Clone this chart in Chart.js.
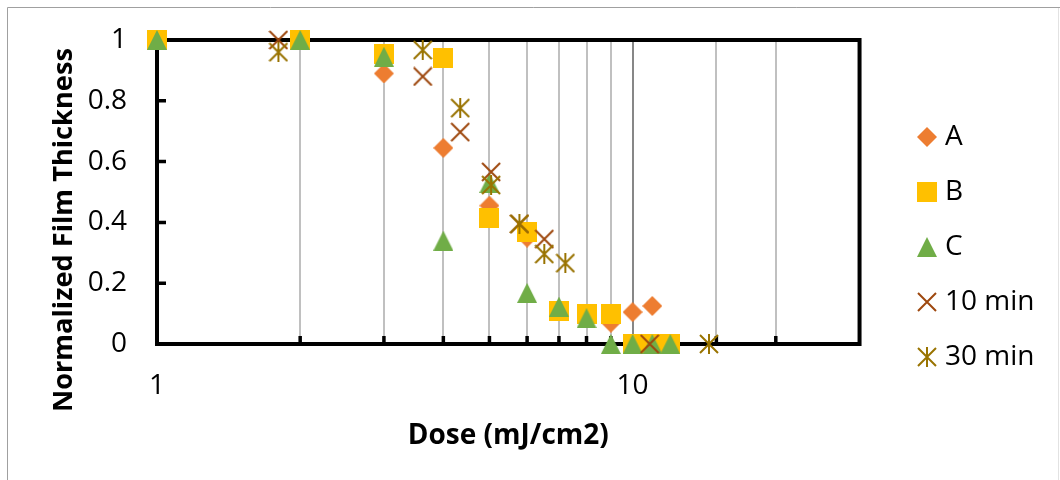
<!DOCTYPE html>
<html><head><meta charset="utf-8">
<script src="https://cdn.jsdelivr.net/npm/chart.js@4.4.1/dist/chart.umd.min.js"></script>
<style>html,body{margin:0;padding:0;background:#fff;} #wrap{position:relative;width:1060px;height:480px;}</style>
</head><body><div id="wrap"><canvas id="c" width="1060" height="480"></canvas></div>
<script>
// ---- data ----
const seriesNames = ['A', 'B', 'C', '10 min', '30 min'];
const doseA  = [1, 2, 3, 4, 5, 6, 9, 10, 11];
const thickA = [1, 1, 0.89, 0.645, 0.455, 0.35, 0.07, 0.105, 0.125];
const doseB  = [1, 2, 3, 4, 5, 6, 7, 8, 9, 10, 11, 12];
const thickB = [1, 1, 0.955, 0.94, 0.415, 0.37, 0.11, 0.10, 0.098, 0, 0, 0];
const doseC  = [1, 2, 3, 4, 5, 6, 7, 8, 9, 10, 11, 12];
const thickC = [1, 1, 0.945, 0.34, 0.53, 0.168, 0.123, 0.085, 0, 0, 0, 0];
const dose10  = [1.8, 3.62, 4.34, 5.04, 5.78, 6.52, 10.86];
const thick10 = [1, 0.88, 0.697, 0.566, 0.395, 0.345, 0];
const dose30  = [1.8, 3.62, 4.34, 5.04, 5.78, 6.52, 7.22, 14.47];
const thick30 = [0.96, 0.967, 0.776, 0.523, 0.395, 0.296, 0.266, 0];
const xTickLabels = [1, 10];
const xMin = 1, xMax = 30;
const yMin = 0, yMax = 1, yStep = 0.2;
const xTitle = 'Dose (mJ/cm2)';
const yTitle = 'Normalized Film Thickness';

// ---- marker images ----
function mk(w, h, draw) { const c = document.createElement('canvas'); c.width = w; c.height = h; draw(c.getContext('2d')); return c; }
const diamond = mk(20, 20, g => { g.fillStyle = '#ED7D31'; g.beginPath(); g.moveTo(10, 0); g.lineTo(20, 10); g.lineTo(10, 20); g.lineTo(0, 10); g.closePath(); g.fill(); });
const square = mk(20, 20, g => { g.fillStyle = '#FFC000'; g.fillRect(0, 0, 20, 20); });
const triangle = mk(20, 20, g => { g.fillStyle = '#70AD47'; g.beginPath(); g.moveTo(10, 0); g.lineTo(20, 20); g.lineTo(0, 20); g.closePath(); g.fill(); });
const cross = mk(20, 20, g => { g.strokeStyle = '#9E480E'; g.lineWidth = 2; g.beginPath(); g.moveTo(1, 1); g.lineTo(19, 19); g.moveTo(19, 1); g.lineTo(1, 19); g.stroke(); });
const aster = mk(20, 20, g => { g.strokeStyle = '#997300'; g.lineWidth = 2; g.beginPath(); g.moveTo(1, 1); g.lineTo(19, 19); g.moveTo(19, 1); g.lineTo(1, 19); g.moveTo(10, 0); g.lineTo(10, 20); g.stroke(); });

const toXY = (xs, ys) => xs.map((x, i) => ({ x, y: ys[i] }));

Chart.defaults.font.family = "'Open Sans', sans-serif";
Chart.defaults.color = '#000';

const framePlugin = {
  id: 'frame',
  beforeDraw(chart) {
    const g = chart.ctx; g.save();
    g.fillStyle = '#fff'; g.fillRect(0, 0, chart.width, chart.height);
    g.lineWidth = 1; g.strokeStyle = '#a0a0a0';
    g.beginPath(); g.moveTo(7.5, 480); g.lineTo(7.5, 7.5); g.lineTo(1060, 7.5); g.stroke();
    g.strokeStyle = '#e2e2e2';
    g.beginPath(); g.moveTo(1058.5, 8); g.lineTo(1058.5, 480); g.stroke();
    g.restore();
  },
  afterLayout(chart) {
    const lg = chart.legend;
    const shift = 923 - (lg.left + lg.options.labels.padding);
    lg.left += shift; lg.right += shift;
  },
  beforeDatasetsDraw(chart) {
    const g = chart.ctx, a = chart.chartArea, x = chart.scales.x, y = chart.scales.y;
    g.save();
    g.strokeStyle = '#000'; g.lineWidth = 3.5;
    g.beginPath();
    x.ticks.forEach(t => { if (t.value <= xMin || t.value >= xMax) return; const px = x.getPixelForValue(t.value); g.moveTo(px, a.bottom); g.lineTo(px, a.bottom - 8); });
    y.ticks.forEach(t => { if (t.value <= yMin || t.value >= yMax) return; const py = y.getPixelForValue(t.value); g.moveTo(a.left, py); g.lineTo(a.left + 9, py); });
    g.stroke();
    g.lineWidth = 4; g.lineJoin = 'miter';
    g.strokeRect(a.left, a.top, a.right - a.left, a.bottom - a.top);
    // y axis title
    g.font = "bold 28px 'Open Sans'";
    const w = g.measureText(yTitle).width;
    const size = 28 * 364 / w;
    g.font = 'bold ' + size.toFixed(2) + "px 'Open Sans'";
    g.fillStyle = '#000'; g.textAlign = 'center'; g.textBaseline = 'alphabetic';
    g.translate(71.5, 230); g.rotate(-Math.PI / 2);
    g.fillText(yTitle, 0, 0);
    g.restore();
  }
};

const common = { showLine: false, clip: false, pointRadius: 10 };
new Chart(document.getElementById('c'), {
  type: 'scatter',
  data: {
    datasets: [
      Object.assign({ label: seriesNames[0], data: toXY(doseA, thickA), pointStyle: diamond, order: 5 }, common),
      Object.assign({ label: seriesNames[1], data: toXY(doseB, thickB), pointStyle: square, order: 4 }, common),
      Object.assign({ label: seriesNames[2], data: toXY(doseC, thickC), pointStyle: triangle, order: 3 }, common),
      Object.assign({ label: seriesNames[3], data: toXY(dose10, thick10), pointStyle: cross, order: 2 }, common),
      Object.assign({ label: seriesNames[4], data: toXY(dose30, thick30), pointStyle: aster, order: 1 }, common)
    ]
  },
  options: {
    responsive: false, animation: false, events: [],
    layout: { padding: { top: 40, left: 0, right: 52, bottom: 26 } },
    plugins: {
      tooltip: { enabled: false },
      legend: {
        position: 'right', maxWidth: 150,
        labels: { usePointStyle: true, boxWidth: 8, padding: 27, font: { size: 28 }, color: '#000',
          sort: (a, b) => a.datasetIndex - b.datasetIndex }
      }
    },
    scales: {
      x: {
        type: 'logarithmic', min: xMin, max: xMax,
        afterFit: s => { s.height = 110; },
        grid: { drawTicks: false, lineWidth: 2, color: c => (c.tick && c.tick.value === 10) ? '#878787' : '#c0c0c0' },
        border: { display: false },
        ticks: { autoSkip: false, maxRotation: 0, padding: 25, font: { size: 28 }, color: '#000',
          callback: v => xTickLabels.includes(v) ? String(v) : '' },
        title: { display: true, text: xTitle, color: '#000', font: { size: 28, weight: 'bold', lineHeight: 1 }, padding: { top: 0, bottom: 4 } }
      },
      y: {
        min: yMin, max: yMax,
        afterFit: s => { s.width = 157; },
        grid: { display: true, drawOnChartArea: false, drawTicks: true, tickLength: 30, tickColor: 'rgba(0,0,0,0)' },
        border: { display: false },
        ticks: { stepSize: yStep, padding: 0, font: { size: 28 }, color: '#000',
          callback: v => String(Math.round(v * 10) / 10) }
      }
    }
  },
  plugins: [framePlugin]
});
</script>
</body></html>
